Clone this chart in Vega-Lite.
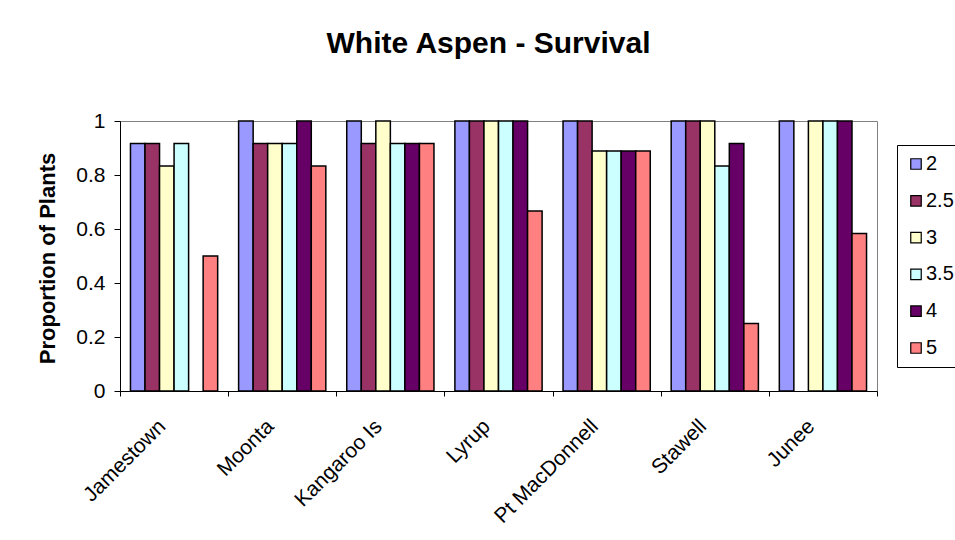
{
  "$schema": "https://vega.github.io/schema/vega-lite/v6.json",
  "width": 757,
  "height": 270,
  "autosize": {"type": "none"},
  "padding": {"left": 120, "top": 121, "right": 78, "bottom": 149},
  "background": "white",
  "title": {
    "text": "White Aspen - Survival",
    "font": "Liberation Sans",
    "fontSize": 30,
    "fontWeight": "bold",
    "color": "black",
    "anchor": "middle",
    "baseline": "alphabetic",
    "dx": -10,
    "offset": 27
  },
  "config": {
    "view": {"stroke": "#808080", "strokeWidth": 1},
    "font": "Liberation Sans"
  },
  "data": {
    "values": [
      {"site": "Jamestown", "series": "2", "value": 0.917},
      {"site": "Jamestown", "series": "2.5", "value": 0.917},
      {"site": "Jamestown", "series": "3", "value": 0.833},
      {"site": "Jamestown", "series": "3.5", "value": 0.917},
      {"site": "Jamestown", "series": "5", "value": 0.5},
      {"site": "Moonta", "series": "2", "value": 1},
      {"site": "Moonta", "series": "2.5", "value": 0.917},
      {"site": "Moonta", "series": "3", "value": 0.917},
      {"site": "Moonta", "series": "3.5", "value": 0.917},
      {"site": "Moonta", "series": "4", "value": 1},
      {"site": "Moonta", "series": "5", "value": 0.833},
      {"site": "Kangaroo Is", "series": "2", "value": 1},
      {"site": "Kangaroo Is", "series": "2.5", "value": 0.917},
      {"site": "Kangaroo Is", "series": "3", "value": 1},
      {"site": "Kangaroo Is", "series": "3.5", "value": 0.917},
      {"site": "Kangaroo Is", "series": "4", "value": 0.917},
      {"site": "Kangaroo Is", "series": "5", "value": 0.917},
      {"site": "Lyrup", "series": "2", "value": 1},
      {"site": "Lyrup", "series": "2.5", "value": 1},
      {"site": "Lyrup", "series": "3", "value": 1},
      {"site": "Lyrup", "series": "3.5", "value": 1},
      {"site": "Lyrup", "series": "4", "value": 1},
      {"site": "Lyrup", "series": "5", "value": 0.667},
      {"site": "Pt MacDonnell", "series": "2", "value": 1},
      {"site": "Pt MacDonnell", "series": "2.5", "value": 1},
      {"site": "Pt MacDonnell", "series": "3", "value": 0.889},
      {"site": "Pt MacDonnell", "series": "3.5", "value": 0.889},
      {"site": "Pt MacDonnell", "series": "4", "value": 0.889},
      {"site": "Pt MacDonnell", "series": "5", "value": 0.889},
      {"site": "Stawell", "series": "2", "value": 1},
      {"site": "Stawell", "series": "2.5", "value": 1},
      {"site": "Stawell", "series": "3", "value": 1},
      {"site": "Stawell", "series": "3.5", "value": 0.833},
      {"site": "Stawell", "series": "4", "value": 0.917},
      {"site": "Stawell", "series": "5", "value": 0.25},
      {"site": "Junee", "series": "2", "value": 1},
      {"site": "Junee", "series": "3", "value": 1},
      {"site": "Junee", "series": "3.5", "value": 1},
      {"site": "Junee", "series": "4", "value": 1},
      {"site": "Junee", "series": "5", "value": 0.583}
    ]
  },
  "mark": {"type": "bar", "stroke": "black", "strokeWidth": 1.5, "opacity": 1},
  "encoding": {
    "x": {
      "field": "site",
      "type": "nominal",
      "sort": null,
      "scale": {"paddingInner": 0, "paddingOuter": 0},
      "axis": {
        "title": null,
        "tickBand": "extent",
        "domainColor": "black",
        "domainWidth": 1,
        "tickColor": "black",
        "tickSize": 5,
        "labelAngle": -45,
        "labelAlign": "right",
        "labelBaseline": "middle",
        "labelPadding": 27,
        "labelOffset": -12,
        "labelFont": "Liberation Sans",
        "labelFontSize": 21,
        "labelColor": "black",
        "grid": false
      }
    },
    "xOffset": {
      "field": "series",
      "type": "nominal",
      "scale": {"domain": ["2", "2.5", "3", "3.5", "4", "5"], "paddingInner": 0, "paddingOuter": 0.72}
    },
    "y": {
      "field": "value",
      "type": "quantitative",
      "scale": {"domain": [0, 1], "nice": false},
      "axis": {
        "title": "Proportion of Plants",
        "titleFont": "Liberation Sans",
        "titleFontSize": 22,
        "titleFontWeight": "bold",
        "titleColor": "black",
        "titleAngle": -90,
        "titleAlign": "center",
        "titleBaseline": "alphabetic",
        "titleX": -66,
        "titleY": 137,
        "values": [0, 0.2, 0.4, 0.6, 0.8, 1],
        "format": "~g",
        "grid": false,
        "domainColor": "black",
        "tickColor": "black",
        "tickSize": 6,
        "labelPadding": 9,
        "labelFont": "Liberation Sans",
        "labelFontSize": 21,
        "labelColor": "black"
      }
    },
    "fill": {
      "field": "series",
      "type": "nominal",
      "scale": {
        "domain": ["2", "2.5", "3", "3.5", "4", "5"],
        "range": ["#9999FF", "#993366", "#FFFFCC", "#CCFFFF", "#660066", "#FF8080"]
      },
      "legend": {
        "title": null,
        "orient": "none",
        "legendX": 777,
        "legendY": 24,
        "direction": "vertical",
        "symbolType": "square",
        "symbolSize": 110,
        "symbolStrokeColor": "black",
        "symbolStrokeWidth": 1.2,
        "labelFont": "Liberation Sans",
        "labelFontSize": 20,
        "labelColor": "black",
        "labelOffset": 0,
        "rowPadding": 16.8,
        "padding": 9,
        "strokeColor": "black",
        "fillColor": "white"
      }
    }
  }
}
